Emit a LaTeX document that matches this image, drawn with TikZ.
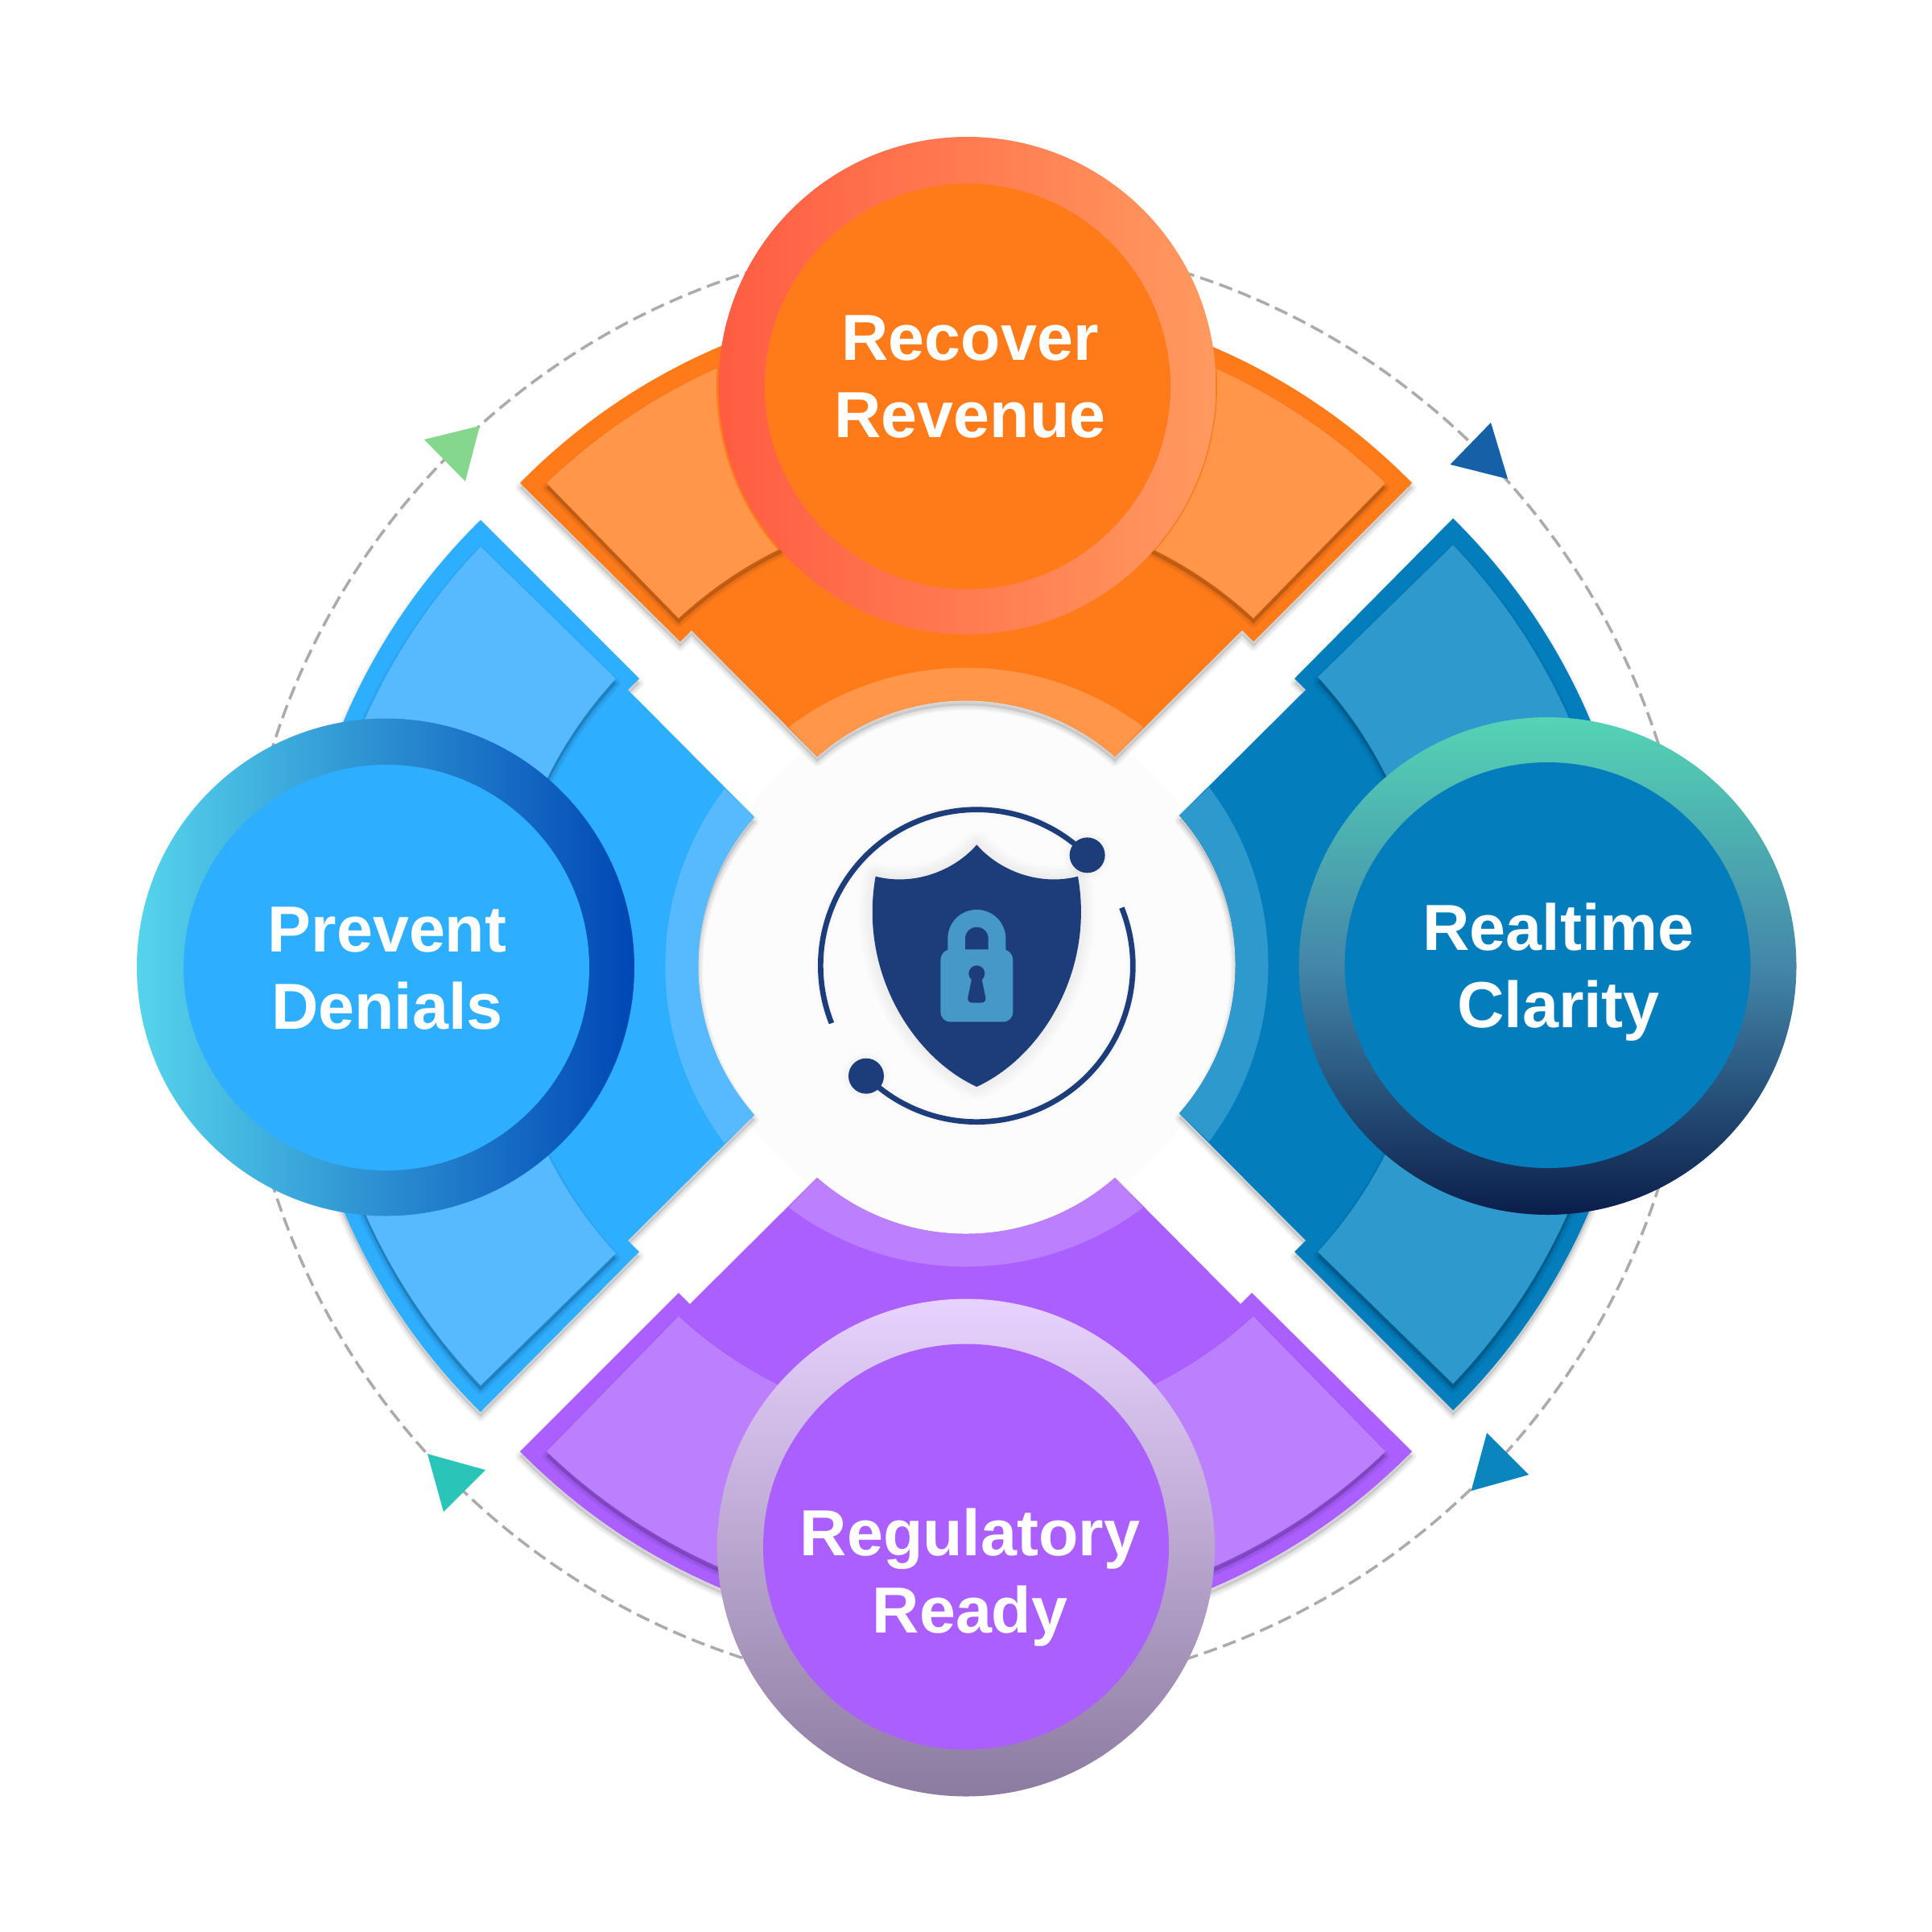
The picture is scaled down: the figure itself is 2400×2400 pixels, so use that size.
\documentclass[tikz,border=0pt]{standalone}
\usepackage{fontspec}
\setmainfont{Liberation Sans}
\definecolor{orBase}{HTML}{FF7B1A}\definecolor{orLight}{HTML}{FF964A}
\definecolor{blBase}{HTML}{2EAEFF}\definecolor{blLight}{HTML}{57BAFF}
\definecolor{dbBase}{HTML}{037DBC}\definecolor{dbLight}{HTML}{2E99CC}
\definecolor{puBase}{HTML}{AC5FFF}\definecolor{puLight}{HTML}{BC80FF}
\definecolor{navy}{HTML}{1C3C7A}\definecolor{lockblue}{HTML}{4598C8}
\definecolor{disk}{HTML}{FCFCFC}\definecolor{dashgrey}{HTML}{ABABAB}
\def\px{0.2845pt}
\def\basepath{(646,600) .. controls (950,291) and (1450,291) .. (1754,600) -- (1557,797) -- (1543,783) -- (1385,940) .. controls (1279,847) and (1121,847) .. (1015,940) -- (859,783) -- (845,797) -- cycle}
\def\flappath{(679,600) .. controls (970,322) and (1430,322) .. (1721,600) -- (1557,768) .. controls (1356,582) and (1044,582) .. (843,768) -- cycle}
\def\bandpath{(980,903) .. controls (1110,805) and (1290,805) .. (1420,903) -- (1385,940) .. controls (1279,847) and (1121,847) .. (1015,940) -- cycle}
\newcommand\softshape[5]{% angle, offset, fill opacity, dx, dy
  \begin{scope}[shift={(#4,#5)},shift={(0,#2)},rotate around={#1:(1200,1200)}]
    \fill[black,opacity=#3] \shapepath;
    \foreach \w in {3,6,9,12}{\draw[black,opacity=.03,line join=round,line width=\w*\px] \shapepath;}
  \end{scope}}
\newcommand\sectorshape[5]{%
  \let\shapepath\basepath \softshape{#1}{6}{.10}{#4}{#5}%
  \begin{scope}[shift={(#4,#5)},rotate around={#1:(1200,1200)}]
    \fill[#2] \basepath;
    \fill[#3] \bandpath;
  \end{scope}
  \let\shapepath\flappath \softshape{#1}{6}{.16}{#4}{#5}%
  \begin{scope}[shift={(#4,#5)},rotate around={#1:(1200,1200)}]
    \fill[#3] \flappath;
  \end{scope}}
\tikzset{
  ringlabel/.style={align=center,text=white,inner sep=0pt,font=\fontsize{23}{27.3}\selectfont\bfseries},
  orbit/.style={navy,line width=6.7*\px},
  triangle/.style={draw=none}
}
\begin{document}
\begin{tikzpicture}[x=0.01cm,y=-0.01cm]
\useasboundingbox (0,0) rectangle (2400,2400);
\fill[white] (0,0) rectangle (2400,2400);
% dashed orbit
\draw[dashgrey,line width=3.5*\px,dash pattern=on 17*\px off 8*\px] (1200,1200) circle[radius=903];
% direction triangles
\fill[triangle,fill={rgb,255:red,132;green,215;blue,140}] (596,529) -- (527,546) -- (578,598) -- cycle;
\fill[triangle,fill={rgb,255:red,21;green,96;blue,166}] (1852,525) -- (1873,595) -- (1801.5,577) -- cycle;
\fill[triangle,fill={rgb,255:red,10;green,133;blue,190}] (1847,1780) -- (1899,1832) -- (1827.5,1852) -- cycle;
\fill[triangle,fill={rgb,255:red,42;green,196;blue,184}] (531,1806) -- (603,1826) -- (551,1878) -- cycle;
% central disk
\fill[disk] (1200,1200) circle[radius=333];
% sectors
\sectorshape{0}{orBase}{orLight}{0}{0}
\begin{scope}\clip \flappath; \fill[orBase] (1201,479) circle[radius=311]; \end{scope}
\sectorshape{90}{blBase}{blLight}{-3}{0}
\sectorshape{180}{puBase}{puLight}{0}{3}
\sectorshape{270}{dbBase}{dbLight}{5}{-2}
% rings
\shade[left color={rgb,255:red,255;green,92;blue,66},right color={rgb,255:red,255;green,154;blue,96}] (1201.5,479) circle[radius=309];
\fill[orBase] (1202,480) circle[radius=252];
\shade[left color={rgb,255:red,86;green,212;blue,236},right color={rgb,255:red,0;green,71;blue,181}] (479,1201.5) circle[radius=309];
\fill[blBase] (480,1202) circle[radius=252];
\shade[top color={rgb,255:red,85;green,212;blue,181},bottom color={rgb,255:red,11;green,30;blue,75},middle color={rgb,255:red,68;green,134;blue,170}] (1922.5,1200) circle[radius=309];
\fill[dbBase] (1922.5,1199) circle[radius=252];
\shade[top color={rgb,255:red,232;green,210;blue,255},bottom color={rgb,255:red,140;green,123;blue,160}] (1200,1922.5) circle[radius=309];
\fill[puBase] (1200,1921.5) circle[radius=252];
% labels
\node[ringlabel] (recover) at (1205,468.5) {Recover\\Revenue};
\node[ringlabel] (prevent) at (481,1203) {Prevent\\Denials};
\node[ringlabel] (realtime) at (1936,1208) {Realtime\\Clarity};
\node[ringlabel] (regulatory) at (1205,1960) {Regulatory\\Ready};
% central emblem, in units of a 3x crop
\begin{scope}[shift={(980,980)},scale=0.33333]
  \def\shieldpath{(700,208) .. controls (615,306) and (465,363) .. (323,326) .. controls (260,680) and (460,1000) .. (700,1110) .. controls (940,1000) and (1140,680) .. (1077,326) .. controls (935,363) and (785,306) .. (700,208) -- cycle}
  \foreach \w in {20,40,60,80,100}{\draw[black,opacity=.012,line join=round,line width=\w*\px/3] \shieldpath;}
  \foreach \w in {15,30,45}{
    \draw[black,opacity=.012,line width=\w*\px/3] plot[domain=45:201.6,samples=70] ({700+582*cos(\x)},{659-582*sin(\x)});
    \draw[black,opacity=.012,line width=\w*\px/3] plot[domain=21.8:-135,samples=70] ({700+582*cos(\x)},{659-582*sin(\x)});
    \fill[black,opacity=.012] (1112,247) circle[radius=66+\w/2];
    \fill[black,opacity=.012] (288,1070) circle[radius=66+\w/2];
  }
  \fill[navy] \shieldpath;
  \draw[orbit] plot[domain=45:201.6,samples=90] ({700+582*cos(\x)},{659-582*sin(\x)});
  \draw[orbit] plot[domain=21.8:-135,samples=90] ({700+582*cos(\x)},{659-582*sin(\x)});
  \fill[navy] (1112,247) circle[radius=66];
  \fill[navy] (288,1070) circle[radius=66];
  % lock
  \fill[lockblue] (592,620) -- (592,558) .. controls (592,498) and (640,450) .. (700,450) .. controls (760,450) and (808,498) .. (808,558) -- (808,620) -- cycle;
  \fill[lockblue] (565,640) .. controls (565,620) and (575,605) .. (592,600) -- (808,600) .. controls (825,605) and (835,620) .. (835,640) -- (835,830) .. controls (835,852) and (820,868) .. (798,868) -- (602,868) .. controls (580,868) and (565,852) .. (565,830) -- cycle;
  \fill[navy] (657,598) -- (657,558) .. controls (657,534) and (676,515) .. (700,515) .. controls (724,515) and (743,534) .. (743,558) -- (743,598) -- cycle;
  \fill[navy] (700,688) circle[radius=30];
  \fill[navy] (684,695) -- (667,778) .. controls (665,792) and (675,797) .. (685,797) -- (715,797) .. controls (725,797) and (735,792) .. (733,778) -- (716,695) -- cycle;
\end{scope}
\end{tikzpicture}
\end{document}
